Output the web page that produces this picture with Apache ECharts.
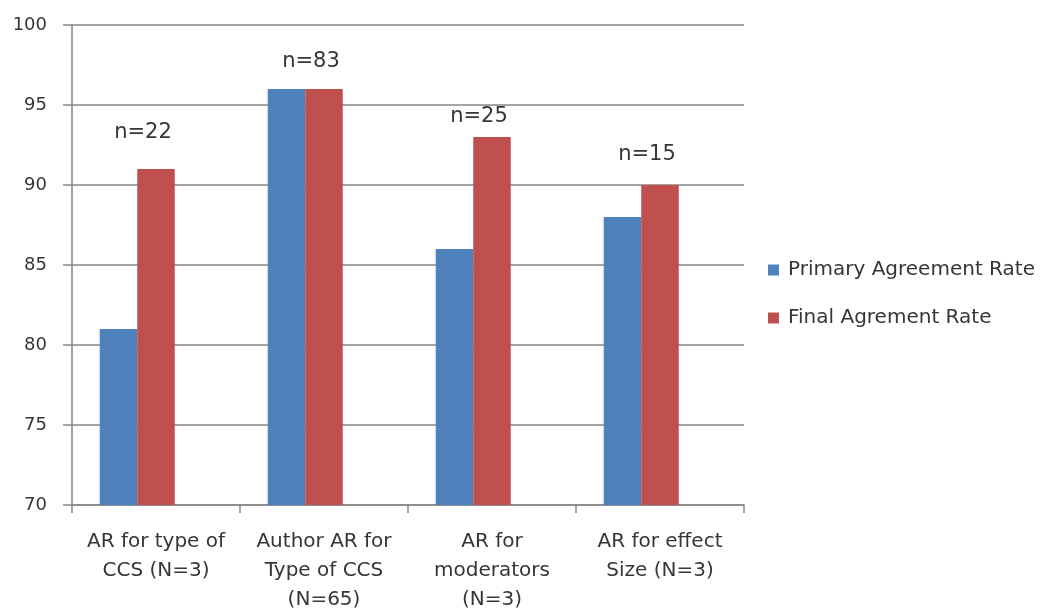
<!DOCTYPE html>
<html><head><meta charset="utf-8">
<script src="https://cdn.jsdelivr.net/npm/echarts@6/dist/echarts.min.js"></script>
<style>html,body{margin:0;padding:0;background:#fff}#c{width:1046px;height:614px}</style>
</head><body><div id="c"></div>
<script>
const categories = ["AR for type of\nCCS (N=3)", "Author AR for\nType of CCS\n(N=65)", "AR for\nmoderators\n(N=3)", "AR for effect\nSize (N=3)"];
const primaryRate = [81, 96, 86, 88];
const finalRate = [91, 96, 93, 90];
const nLabels = ["n=22", "n=83", "n=25", "n=15"];
const nLabelY = [93.3, 97.7, 94.3, 91.9];
const yTicks = [70, 75, 80, 85, 90, 95, 100];

const font = "'DejaVu Sans', sans-serif";
const txt = '#363636';
const chart = echarts.init(document.getElementById('c'));
chart.setOption({
  animation: false,
  grid: {left: 72, right: 302, top: 25, bottom: 107},
  legend: {
    orient: 'vertical', left: 763, top: 255, itemWidth: 11, itemHeight: 11, itemGap: 28,
    icon: 'rect',
    textStyle: {fontFamily: font, fontSize: 20, color: txt, padding: [0, 0, 0, 4]},
    data: ['Primary Agreement Rate', 'Final Agrement Rate']
  },
  xAxis: {
    type: 'category', data: categories,
    axisLine: {lineStyle: {color: '#868686', width: 1.5}},
    axisTick: {show: true, length: 8, lineStyle: {color: '#868686', width: 1.5}},
    axisLabel: {fontFamily: font, fontSize: 20, color: txt, margin: 22, lineHeight: 29, interval: 0}
  },
  yAxis: {
    type: 'value', min: 70, max: 100, interval: 5,
    axisLine: {show: true, lineStyle: {color: '#868686', width: 1.5}},
    axisTick: {show: true, length: 9, lineStyle: {color: '#868686', width: 1.5}},
    splitLine: {lineStyle: {color: '#868686', width: 1.5}},
    axisLabel: {fontFamily: font, fontSize: 18, color: txt, margin: 25,
      formatter: v => yTicks.includes(v) ? String(v) : ''}
  },
  series: [
    {name: 'Primary Agreement Rate', type: 'bar', data: primaryRate, barGap: '0%', barCategoryGap: '33%',
     itemStyle: {color: '#4F81BD'}},
    {name: 'Final Agrement Rate', type: 'bar', data: finalRate, barGap: '0%', barCategoryGap: '33%',
     itemStyle: {color: '#C0504D'}},
    {name: 'spacer', type: 'bar', data: [null, null, null, null], barGap: '0%', barCategoryGap: '33%',
     itemStyle: {color: 'rgba(0,0,0,0)'}, silent: true},
    {name: 'n', type: 'scatter', data: nLabelY, symbolSize: 0, silent: true,
     itemStyle: {opacity: 1},
     label: {show: true, position: 'inside', offset: [-13, 0], fontFamily: font, fontSize: 21, color: txt,
       formatter: p => nLabels[p.dataIndex]}}
  ]
});
</script></body></html>
